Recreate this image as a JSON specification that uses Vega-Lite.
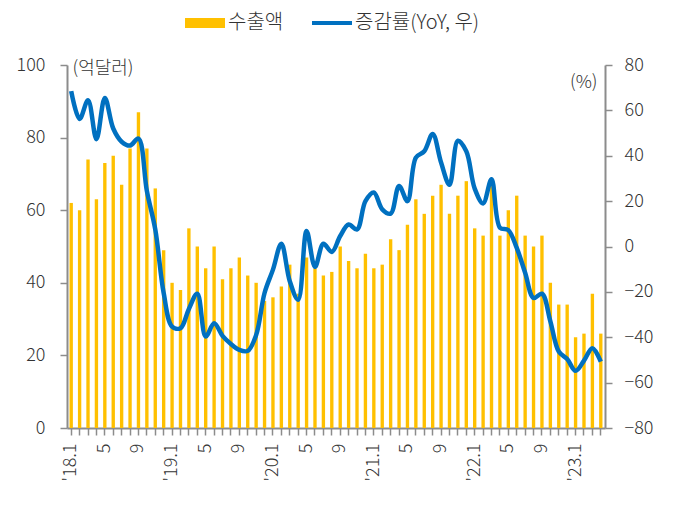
{
  "$schema": "https://vega.github.io/schema/vega-lite/v6.json",
  "width": 538,
  "height": 363,
  "autosize": {"type": "none"},
  "padding": {"left": 67, "top": 65, "right": 78, "bottom": 78},
  "background": "white",
  "config": {
    "font": "Noto Sans CJK KR",
    "view": {"stroke": null},
    "axis": {
      "grid": false,
      "domainColor": "#8c8c8c",
      "domainWidth": 2,
      "tickColor": "#8c8c8c",
      "tickWidth": 1.5,
      "tickSize": 7,
      "labelFont": "Noto Sans CJK KR",
      "labelFontSize": 18,
      "labelFontWeight": 300,
      "labelColor": "#333333",
      "titleFont": "Noto Sans CJK KR",
      "titleFontSize": 18,
      "titleFontWeight": 300,
      "titleColor": "#333333"
    },
    "legend": {"labelFont": "Noto Sans CJK KR", "labelFontSize": 20, "labelFontWeight": 300, "labelColor": "#333333"}
  },
  "data": {
    "values": [
      {"ym": "18.01", "v": 62, "g": 68.5},
      {"ym": "18.02", "v": 60, "g": 56.2},
      {"ym": "18.03", "v": 74, "g": 64.5},
      {"ym": "18.04", "v": 63, "g": 47.3},
      {"ym": "18.05", "v": 73, "g": 65.5},
      {"ym": "18.06", "v": 75, "g": 52},
      {"ym": "18.07", "v": 67, "g": 46.2},
      {"ym": "18.08", "v": 77, "g": 44.5},
      {"ym": "18.09", "v": 87, "g": 47.6},
      {"ym": "18.10", "v": 77, "g": 24.5},
      {"ym": "18.11", "v": 66, "g": 7.5},
      {"ym": "18.12", "v": 49, "g": -20.5},
      {"ym": "19.01", "v": 40, "g": -35.3},
      {"ym": "19.02", "v": 38, "g": -36},
      {"ym": "19.03", "v": 55, "g": -27.5},
      {"ym": "19.04", "v": 50, "g": -20.8},
      {"ym": "19.05", "v": 44, "g": -39.7},
      {"ym": "19.06", "v": 50, "g": -33.8},
      {"ym": "19.07", "v": 41, "g": -39.4},
      {"ym": "19.08", "v": 44, "g": -43},
      {"ym": "19.09", "v": 47, "g": -45.6},
      {"ym": "19.10", "v": 42, "g": -46},
      {"ym": "19.11", "v": 40, "g": -39},
      {"ym": "19.12", "v": 35, "g": -20.5},
      {"ym": "20.01", "v": 36, "g": -10.2},
      {"ym": "20.02", "v": 39, "g": 1.2},
      {"ym": "20.03", "v": 45, "g": -15.3},
      {"ym": "20.04", "v": 37, "g": -23.5},
      {"ym": "20.05", "v": 47, "g": 6.8},
      {"ym": "20.06", "v": 44, "g": -9},
      {"ym": "20.07", "v": 42, "g": 1.2},
      {"ym": "20.08", "v": 43, "g": -2.4},
      {"ym": "20.09", "v": 50, "g": 4.6},
      {"ym": "20.10", "v": 46, "g": 9.7},
      {"ym": "20.11", "v": 44, "g": 7.5},
      {"ym": "20.12", "v": 48, "g": 20},
      {"ym": "21.01", "v": 44, "g": 23.8},
      {"ym": "21.02", "v": 45, "g": 16.4},
      {"ym": "21.03", "v": 52, "g": 14.5},
      {"ym": "21.04", "v": 49, "g": 26.7},
      {"ym": "21.05", "v": 56, "g": 20},
      {"ym": "21.06", "v": 63, "g": 39.2},
      {"ym": "21.07", "v": 59, "g": 42},
      {"ym": "21.08", "v": 64, "g": 49.6},
      {"ym": "21.09", "v": 67, "g": 37},
      {"ym": "21.10", "v": 59, "g": 27.2},
      {"ym": "21.11", "v": 64, "g": 46.6},
      {"ym": "21.12", "v": 68, "g": 42},
      {"ym": "22.01", "v": 55, "g": 25.5},
      {"ym": "22.02", "v": 53, "g": 19},
      {"ym": "22.03", "v": 67, "g": 29.6},
      {"ym": "22.04", "v": 53, "g": 8.3},
      {"ym": "22.05", "v": 60, "g": 7.2},
      {"ym": "22.06", "v": 64, "g": -0.6},
      {"ym": "22.07", "v": 53, "g": -11.6},
      {"ym": "22.08", "v": 50, "g": -22.7},
      {"ym": "22.09", "v": 53, "g": -20.8},
      {"ym": "22.10", "v": 40, "g": -33},
      {"ym": "22.11", "v": 34, "g": -46.3},
      {"ym": "22.12", "v": 34, "g": -49.6},
      {"ym": "23.01", "v": 25, "g": -54.8},
      {"ym": "23.02", "v": 26, "g": -50.3},
      {"ym": "23.03", "v": 37, "g": -44.8},
      {"ym": "23.04", "v": 26, "g": -50.7}
    ]
  },
  "encoding": {
    "x": {
      "field": "ym",
      "type": "ordinal",
      "sort": null,
      "scale": {"paddingInner": 0, "paddingOuter": 0},
      "axis": {
        "title": null,
        "labelAngle": -90,
        "labelPadding": 8,
        "labelExpr": "toNumber(substring(datum.value,3)) === 1 ? \"'\" + substring(datum.value,0,2) + '.1' : (toNumber(substring(datum.value,3)) === 5 || toNumber(substring(datum.value,3)) === 9 ? '' + toNumber(substring(datum.value,3)) : '')"
      }
    }
  },
  "layer": [
    {
      "mark": {"type": "bar", "width": {"band": 0.4}},
      "encoding": {
        "y": {
          "field": "v",
          "type": "quantitative",
          "scale": {"domain": [0, 100]},
          "axis": {
            "values": [0, 20, 40, 60, 80, 100],
            "title": "(억달러)",
            "titleAngle": 0,
            "titleAlign": "left",
            "titleBaseline": "middle",
            "titleX": 5,
            "titleY": 3,
            "labelPadding": 15
          }
        },
        "color": {
          "datum": "수출액",
          "scale": {"domain": ["수출액", "증감률(YoY, 우)"], "range": ["#FFC000", "#0070C0"]},
          "legend": {
            "title": null,
            "orient": "none",
            "direction": "horizontal",
            "legendX": 118,
            "legendY": -62,
            "symbolSize": 1600,
            "symbolStrokeWidth": 0,
            "labelOffset": 3,
            "columnPadding": 28,
            "encode": {
              "symbols": {
                "update": {
                  "shape": {"signal": "datum.value === '수출액' ? 'M-1,-0.25H1V0.25H-1Z' : 'M-1,-0.1H1V0.1H-1Z'"},
                  "fill": {"signal": "datum.value === '수출액' ? '#FFC000' : '#0070C0'"},
                  "stroke": {"value": "transparent"},
                  "strokeWidth": {"value": 0},
                  "opacity": {"value": 1}
                }
              }
            }
          }
        }
      }
    },
    {
      "mark": {"type": "line", "interpolate": "catmull-rom", "strokeWidth": 4.5},
      "encoding": {
        "y": {
          "field": "g",
          "type": "quantitative",
          "scale": {"domain": [-80, 80]},
          "axis": {
            "orient": "right",
            "values": [-80, -60, -40, -20, 0, 20, 40, 60, 80],
            "title": "(%)",
            "titleAngle": 0,
            "titleAlign": "right",
            "titleBaseline": "middle",
            "titleX": -8,
            "titleY": 17,
            "labelPadding": 12
          }
        },
        "color": {"datum": "증감률(YoY, 우)"}
      }
    }
  ],
  "resolve": {"scale": {"y": "independent"}}
}
